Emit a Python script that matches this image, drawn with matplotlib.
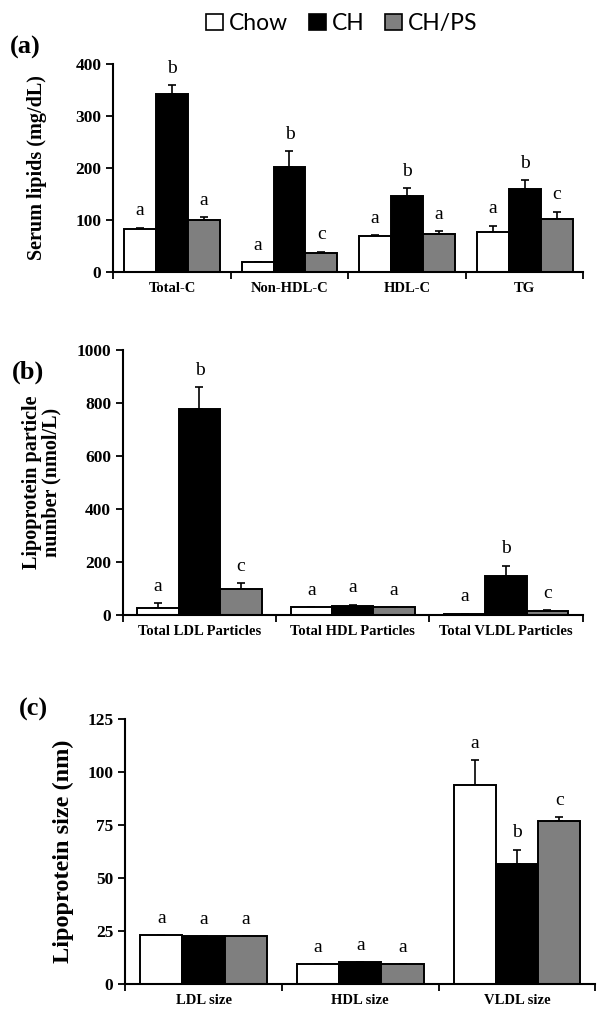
import numpy as np
import matplotlib
matplotlib.use("Agg")
import matplotlib.pyplot as plt
from matplotlib.patches import Patch
from matplotlib.ticker import FixedLocator

groups = ["Chow", "CH", "CH/PS"]
colors = ["white", "black", "#7f7f7f"]

# (a) serum lipids
lip_cats = ["Total-C", "Non-HDL-C", "HDL-C", "TG"]
lip_mean = [[83, 19, 69, 77],
            [342, 201, 146, 160],
            [100, 37, 73, 102]]
lip_err = [[2, 0, 2, 12],
           [17, 31, 15, 17],
           [5, 2, 5, 14]]
lip_let = [["a", "a", "a", "a"],
           ["b", "b", "b", "b"],
           ["a", "c", "a", "c"]]

# (b) particle number
num_cats = ["Total LDL Particles", "Total HDL Particles", "Total VLDL Particles"]
num_mean = [[25, 30, 5],
            [777, 35, 145],
            [97, 30, 13]]
num_err = [[18, 0, 0],
           [84, 4, 41],
           [23, 0, 5]]
num_let = [["a", "a", "a"],
           ["b", "a", "b"],
           ["c", "a", "c"]]

# (c) particle size
size_cats = ["LDL size", "HDL size", "VLDL size"]
size_mean = [[23.1, 9.5, 93.8],
             [22.7, 10.6, 56.7],
             [22.7, 9.5, 77.0]]
size_err = [[0, 0, 11.8],
            [0, 0, 6.7],
            [0, 0, 1.6]]
size_let = [["a", "a", "a"],
            ["a", "a", "b"],
            ["a", "a", "c"]]

serif = "Liberation Serif"
fig = plt.figure(figsize=(6.02, 10.18), dpi=100)


def panel(rect, cats, means, errs, lets, ymax, step, ylabel, ylsize, tag, tagxy, bw, ticksize=10.5):
    ax = fig.add_axes(rect)
    x = np.arange(len(cats)) + 0.5
    for i in range(3):
        xs = x + (i - 1) * bw
        ax.bar(xs, means[i], bw, color=colors[i], edgecolor="black", linewidth=1.4, zorder=2)
        up = [e if e > 0 else 0 for e in errs[i]]
        ax.errorbar(xs, means[i], yerr=[np.zeros(len(up)), up], fmt="none",
                    ecolor="black", elinewidth=1.2, capsize=3, capthick=1.2, zorder=1)
        for xx, m, e, l in zip(xs, means[i], up, lets[i]):
            ax.annotate(l, (xx, m + e), xytext=(0, 6), textcoords="offset points",
                        ha="center", va="bottom", fontsize=14, family=serif)
    ax.set_xlim(0, len(cats))
    ax.set_ylim(0, ymax)
    ax.set_yticks(np.arange(0, ymax + 1, step))
    ax.set_xticks(x)
    ax.set_xticklabels(cats, fontsize=ticksize, fontweight="bold", family=serif)
    ax.xaxis.set_minor_locator(FixedLocator(np.arange(0, len(cats) + 1)))
    ax.tick_params(axis="x", which="major", length=0, pad=7)
    ax.tick_params(axis="x", which="minor", length=5, width=1.3, direction="out")
    ax.tick_params(axis="y", length=5, width=1.3, direction="out", labelsize=12.5)
    for t in ax.get_yticklabels():
        t.set_family(serif)
        t.set_fontweight("bold")
    for s in ["top", "right"]:
        ax.spines[s].set_visible(False)
    for s in ["left", "bottom"]:
        ax.spines[s].set_linewidth(1.5)
    ax.set_ylabel(ylabel, fontsize=ylsize, fontweight="bold", family=serif, linespacing=1.0)
    fig.text(tagxy[0], tagxy[1], tag, fontsize=19, fontweight="bold", family=serif,
             ha="left", va="center")
    return ax


ax1 = panel([0.188, 0.733, 0.781, 0.204], lip_cats, lip_mean, lip_err, lip_let,
            400, 100, "Serum lipids (mg/dL)", 14.5, "(a)", (0.016, 0.953), 0.272)
ax1.yaxis.set_label_coords(-0.14, 0.5)

ax2 = panel([0.204, 0.396, 0.764, 0.260], num_cats, num_mean, num_err, num_let,
            1000, 200, "Lipoprotein particle\nnumber (nmol/L)", 14.5, "(b)", (0.02, 0.634), 0.27)
ax2.yaxis.set_label_coords(-0.133, 0.5)

ax3 = panel([0.208, 0.033, 0.781, 0.261], size_cats, size_mean, size_err, size_let,
            125, 25, "Lipoprotein size (nm)", 17.5, "(c)", (0.032, 0.3035), 0.27)
ax3.yaxis.set_label_coords(-0.108, 0.5)

handles = [Patch(facecolor=c, edgecolor="black", linewidth=1.2) for c in colors]
fig.legend(handles, groups, loc="center", bbox_to_anchor=(0.568, 0.977), ncol=3,
           frameon=False, handlelength=0.75, handleheight=0.75, handletextpad=0.25,
           columnspacing=0.9, prop={"family": "Lato", "size": 16.5})

fig.savefig("out.png", dpi=100)
